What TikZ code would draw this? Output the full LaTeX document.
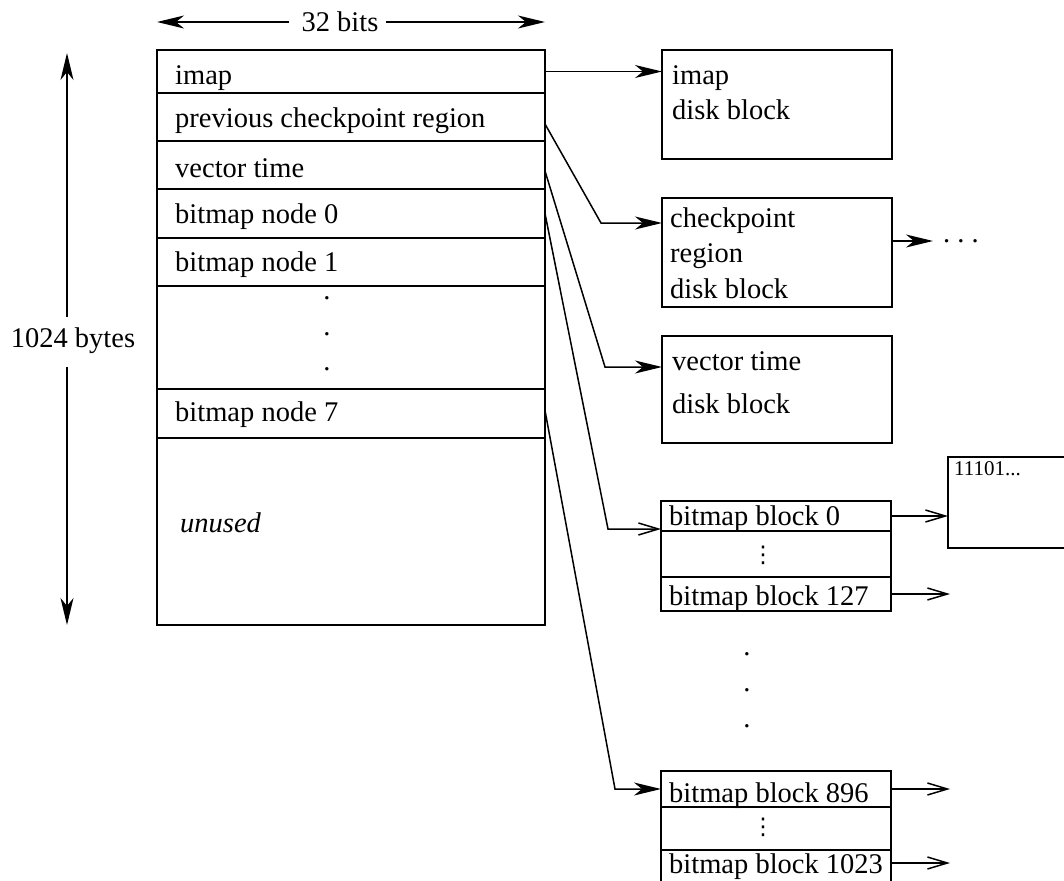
\documentclass[tikz,border=0pt]{standalone}
\usepackage{fontspec}
\setmainfont{Liberation Serif}
\newfontfamily\symbolfont{DejaVu Sans}
\usetikzlibrary{arrows.meta}
% a column of three periods, #1 apart
\newcommand\dotcolumn[1]{\vbox{\baselineskip=#1\hbox{.}\hbox{.}\hbox{.}}}
\begin{document}
\begin{tikzpicture}[x=1pt,y=-1pt,
  cell/.style={draw, line width=1.7pt, anchor=north west, minimum width=388pt,
               inner sep=0pt, outer sep=0pt},
  blk/.style={draw, line width=1.7pt, anchor=north west, minimum width=230pt,
              inner sep=0pt, outer sep=0pt},
  lbl/.style={anchor=base west, inner sep=0pt, font=\fontsize{28.5}{34}\selectfont},
  mid/.style={inner sep=0pt, font=\fontsize{28.5}{34}\selectfont},
  vell/.style={inner sep=0pt, font=\symbolfont\fontsize{23}{26}\selectfont},
  conn/.style={line width=1.5pt},
  fillarrow/.style={conn, -{Stealth[length=27pt,width=13pt,inset=8pt]}},
  openarrow/.style={conn, -{Straight Barb[length=20pt,width=12pt]}}
]
\useasboundingbox (0,0) rectangle (1064,880);
\clip (0,0) rectangle (1064,880);

% ---- checkpoint region record ----
\node[cell, minimum height=43pt]  (r0) at (157,50)  {};
\node[cell, minimum height=48pt]  (r1) at (157,93)  {};
\node[cell, minimum height=48pt]  (r2) at (157,141) {};
\node[cell, minimum height=49pt]  (r3) at (157,189) {};
\node[cell, minimum height=48pt]  (r4) at (157,238) {};
\node[cell, minimum height=103pt] (r5) at (157,286) {};
\node[cell, minimum height=49pt]  (r6) at (157,389) {};
\node[cell, minimum height=187pt] (r7) at (157,438) {};

\node[lbl] (t0) at (175,85)  {imap};
\node[lbl] (t1) at (175,128) {previous checkpoint region};
\node[lbl] (t2) at (175,177) {vector time};
\node[lbl] (t3) at (175,223) {bitmap node 0};
\node[lbl] (t4) at (175,271) {bitmap node 1};
\node[mid] (t5) at (327,334) {\dotcolumn{35.5pt}};
\node[lbl] (t6) at (175,421) {bitmap node 7};
\node[lbl] (t7) at (180,532) {\itshape unused};

% ---- dimensions ----
\node[mid] (bitsT) at (340,22) {32 bits};
\coordinate (bl) at (157,22);
\coordinate (br) at (545,22);
\draw[fillarrow] ([xshift=-12pt]bitsT.west) -- (bl);
\draw[fillarrow] ([xshift=7pt]bitsT.east) -- (br);

\node[mid] (bytesT) at (73,341) {1024 bytes};
\coordinate (bu) at (67,317);
\coordinate (bt) at (67,53);
\coordinate (bd) at (67,367);
\coordinate (bb) at (67,625);
\draw[fillarrow] (bu) -- (bt);
\draw[fillarrow] (bd) -- (bb);

% ---- disk blocks ----
\node[blk, minimum height=109pt] (ib) at (662,50)  {};
\node[lbl] (ib1) at (672,85)  {imap};
\node[lbl] (ib2) at (672,120) {disk block};

\node[blk, minimum height=109pt] (cb) at (662,198) {};
\node[lbl] (cb1) at (670,227) {checkpoint};
\node[lbl] (cb2) at (670,262) {region};
\node[lbl] (cb3) at (670,298) {disk block};

\node[blk, minimum height=107pt] (vb) at (662,336) {};
\node[lbl] (vb1) at (672,370) {vector time};
\node[lbl] (vb2) at (672,413) {disk block};

% first bitmap node's blocks
\node[blk, minimum height=30pt] (g0a) at (661,501) {};
\node[blk, minimum height=46pt] (g0b) at (661,531) {};
\node[blk, minimum height=34pt] (g0c) at (661,577) {};
\node[lbl] (g0at) at (669,525) {bitmap block 0};
\node[vell] (g0bt) at (763,555) {⋮};
\node[lbl] (g0ct) at (669,605) {bitmap block 127};

\node[mid] (gap) at (747,690) {\dotcolumn{36pt}};

% last bitmap node's blocks
\node[blk, minimum height=36pt] (g1a) at (661,771) {};
\node[blk, minimum height=43pt] (g1b) at (661,807) {};
\node[blk, minimum height=35pt] (g1c) at (661,850) {};
\node[lbl] (g1at) at (669,802) {bitmap block 896};
\node[vell] (g1bt) at (763,827) {⋮};
\node[lbl] (g1ct) at (669,873) {bitmap block 1023};

% bitmap contents
\node[draw, line width=1.7pt, anchor=north west, minimum width=140pt,
      minimum height=91pt, inner sep=0pt, outer sep=0pt] (bx) at (948,457) {};
\node[lbl, font=\fontsize{21}{25}\selectfont] (bxt) at (954,475) {11101...};

% ---- pointers ----
\coordinate (k1) at (601,223);
\coordinate (k2) at (605,367);
\coordinate (k3) at (608,529);
\coordinate (k4) at (615,789);

\draw[fillarrow] (r0.east) -- (r0.east -| ib.west);
\draw[fillarrow] ([yshift=-7pt]r1.east) -- (k1) -- (k1 -| cb.west);
\draw[fillarrow] ([yshift=-6pt]r2.east) -- (k2) -- (k2 -| vb.west);
\draw[openarrow] (r3.east) -- (k3) -- (k3 -| g0a.west);
\draw[fillarrow] ([yshift=3pt]r6.east) -- (k4) -- (k4 -| g1a.west);

\coordinate (e1) at (950,594);
\coordinate (e2) at (950,789);
\coordinate (e3) at (950,863);
\coordinate (e4) at (933,241);
\draw[openarrow] (g0a.east) -- (g0a.east -| bx.west);
\draw[openarrow] (g0c.east) -- (e1);
\draw[openarrow] (g1a.east) -- (e2);
\draw[openarrow] (g1c.east |- e3) -- (e3);
\draw[fillarrow] (cb.east |- e4) -- (e4);
\node[lbl] (more) at (943,242) {.\ .\ .};
\end{tikzpicture}
\end{document}
